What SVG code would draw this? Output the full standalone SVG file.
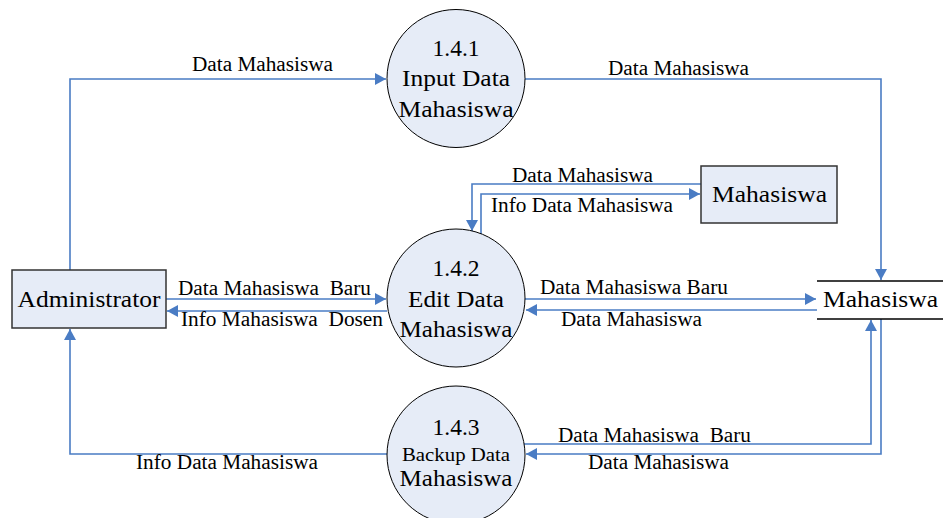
<svg xmlns="http://www.w3.org/2000/svg" width="943" height="518" viewBox="0 0 943 518" font-family="'Liberation Serif', Tinos, 'Times New Roman', Times, 'Noto Serif', 'DejaVu Serif', serif">
<style>
text{font-family:'Liberation Serif',Tinos,'Times New Roman',Times,'Noto Serif','DejaVu Serif',serif;fill:#000;white-space:pre}
.lbl{font-size:20px}
.big{font-size:23px}
.proc{fill:#e6ecf7;stroke:#000;stroke-width:1}
.ent{fill:#e6ecf7;stroke:#333;stroke-width:1.5}
.flow{fill:none;stroke:#4a7cc4;stroke-width:1.6;marker-end:url(#ah)}
.store{stroke:#000;stroke-width:1.3}
</style>
<defs>
<marker id="ah" markerWidth="12" markerHeight="12" viewBox="0 0 12 12" refX="11" refY="6" orient="auto" markerUnits="userSpaceOnUse">
<path d="M0,0 L11,6 L0,12 Z" fill="#4a7cc4"/>
</marker>
</defs>
<g id="connectors">
<path class="flow" d="M70,270 V79 H386"/>
<path class="flow" d="M525,79 H881 V280"/>
<path class="flow" d="M701,184 H472 V231"/>
<path class="flow" d="M481,234 V194 H700"/>
<path class="flow" d="M166,299 H386"/>
<path class="flow" d="M387,311 H167"/>
<path class="flow" d="M525,299 H816"/>
<path class="flow" d="M817,310 H526"/>
<path class="flow" d="M524,444 H871 V320"/>
<path class="flow" d="M881,319 V454 H526"/>
<path class="flow" d="M387,454 H70 V329"/>
<text class="lbl" x="192" y="71" textLength="141" lengthAdjust="spacingAndGlyphs">Data Mahasiswa</text>
<text class="lbl" x="608" y="75" textLength="141" lengthAdjust="spacingAndGlyphs">Data Mahasiswa</text>
<text class="lbl" x="512" y="182" textLength="141" lengthAdjust="spacingAndGlyphs">Data Mahasiswa</text>
<text class="lbl" x="491" y="212" textLength="182" lengthAdjust="spacingAndGlyphs">Info Data Mahasiswa</text>
<text class="lbl" x="178" y="295" textLength="193" lengthAdjust="spacingAndGlyphs">Data Mahasiswa  Baru</text>
<text class="lbl" x="181" y="326" textLength="202" lengthAdjust="spacingAndGlyphs">Info Mahasiswa  Dosen</text>
<text class="lbl" x="540" y="294" textLength="188" lengthAdjust="spacingAndGlyphs">Data Mahasiswa Baru</text>
<text class="lbl" x="561" y="326" textLength="141" lengthAdjust="spacingAndGlyphs">Data Mahasiswa</text>
<text class="lbl" x="558" y="442" textLength="193" lengthAdjust="spacingAndGlyphs">Data Mahasiswa  Baru</text>
<text class="lbl" x="588" y="469" textLength="141" lengthAdjust="spacingAndGlyphs">Data Mahasiswa</text>
<text class="lbl" x="136" y="469" textLength="182" lengthAdjust="spacingAndGlyphs">Info Data Mahasiswa</text>
</g>
<g id="p141">
<circle class="proc" cx="456" cy="78.5" r="69"/>
<text class="big" x="456" y="56" text-anchor="middle" textLength="47" lengthAdjust="spacingAndGlyphs">1.4.1</text>
<text class="big" x="456" y="86" text-anchor="middle" textLength="108" lengthAdjust="spacingAndGlyphs">Input Data</text>
<text class="big" x="456" y="117" text-anchor="middle" textLength="115" lengthAdjust="spacingAndGlyphs">Mahasiswa</text>
</g>
<g id="p142">
<circle class="proc" cx="456" cy="298" r="69"/>
<text class="big" x="456" y="276" text-anchor="middle" textLength="47" lengthAdjust="spacingAndGlyphs">1.4.2</text>
<text class="big" x="456" y="307" text-anchor="middle" textLength="96" lengthAdjust="spacingAndGlyphs">Edit Data</text>
<text class="big" x="456" y="337" text-anchor="middle" textLength="113" lengthAdjust="spacingAndGlyphs">Mahasiswa</text>
</g>
<g id="p143">
<circle class="proc" cx="456" cy="455" r="69"/>
<text class="big" x="456" y="435" text-anchor="middle" textLength="47" lengthAdjust="spacingAndGlyphs">1.4.3</text>
<text x="456" y="461" font-size="19" text-anchor="middle" textLength="108" lengthAdjust="spacingAndGlyphs">Backup Data</text>
<text class="big" x="456" y="486" text-anchor="middle" textLength="113" lengthAdjust="spacingAndGlyphs">Mahasiswa</text>
</g>
<g id="administrator">
<rect class="ent" x="12" y="270" width="154" height="58"/>
<text class="big" x="89" y="307" text-anchor="middle" textLength="143" lengthAdjust="spacingAndGlyphs">Administrator</text>
</g>
<g id="mahasiswa-entity">
<rect class="ent" x="701" y="166" width="136" height="57"/>
<text class="big" x="769.5" y="202" text-anchor="middle" textLength="115" lengthAdjust="spacingAndGlyphs">Mahasiswa</text>
</g>
<g id="mahasiswa-store">
<line class="store" x1="817" y1="281" x2="943" y2="281"/>
<line class="store" x1="817" y1="319" x2="943" y2="319"/>
<text class="big" x="823" y="307" textLength="115" lengthAdjust="spacingAndGlyphs">Mahasiswa</text>
</g>
</svg>
